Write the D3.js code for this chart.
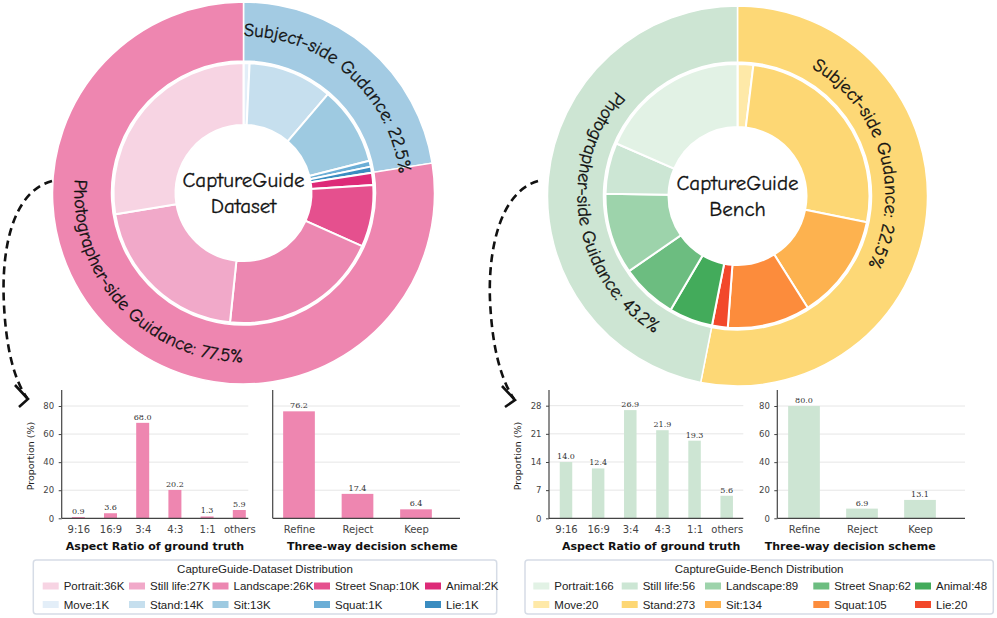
<!DOCTYPE html>
<html>
<head>
<meta charset="utf-8" />
<script src="https://cdn.jsdelivr.net/npm/d3@7"></script>
<style>
  body { margin: 0; background: #fff; }
  svg { display: block; }
  .comic { font-family: "Comic Sans MS", "Comic Neue", "Lato", sans-serif; fill: #111; stroke: #111; stroke-width: 0.3px; }
  .tick text { font-family: "DejaVu Sans", sans-serif; fill: #444; }
  .legend text { font-family: "Liberation Sans", Arial, sans-serif; font-size: 11.5px; fill: #222; }
</style>
</head>
<body>
<svg id="chart" width="997" height="618"></svg>
<script>
"use strict";

// ---- data ----
var photoCats = ["Portrait", "Still life", "Landscape", "Street Snap", "Animal"];
var subjCats = ["Move", "Stand", "Sit", "Squat", "Lie"];

// CaptureGuide-Dataset (counts in K)
var dsPhoto = [36, 27, 26, 10, 2];
var dsSubj = [1, 14, 13, 1, 1];
var dsShare = [22.5, 77.5]; // subject, photographer
var dsRingLabels = ["Subject-side Gudance: 22.5%", "Photographer-side Guidance: 77.5%"];

// CaptureGuide-Bench (counts)
var bnPhoto = [166, 56, 89, 62, 48];
var bnSubj = [20, 273, 134, 105, 20];
var bnShare = [53.1, 46.9]; // as drawn in the ring
var bnRingLabels = ["Subject-side Gudance: 22.5%", "Photographer-side Guidance: 43.2%"];

var ratioCats = ["9:16", "16:9", "3:4", "4:3", "1:1", "others"];
var dsRatio = [0.9, 3.6, 68.0, 20.2, 1.3, 5.9];
var bnRatio = [14.0, 12.4, 26.9, 21.9, 19.3, 5.6];

var decisionCats = ["Refine", "Reject", "Keep"];
var dsDecision = [76.2, 17.4, 6.4];
var bnDecision = [80.0, 6.9, 13.1];

// ---- colours ----
var dsPhotoColors = ["#f7d4e3", "#f1a9c9", "#ec87b1", "#e5508e", "#dd2a78"];
var dsSubjColors = ["#e3eef8", "#c6dfee", "#9ecae1", "#6baed6", "#3a8cc0"];
var dsOuterColors = ["#a3cbe3", "#ee86b0"];
var bnPhotoColors = ["#e2f2e5", "#cce6d4", "#9dd3ab", "#6cbd80", "#43ab5b"];
var bnSubjColors = ["#fee9a8", "#fdd774", "#fdb24f", "#fc8c3c", "#f2482b"];
var bnOuterColors = ["#fdd876", "#cde5d3"];

var svg = d3.select("#chart");
var rad = Math.PI / 180;

// curved label along the outer ring, one textPath per word
function ringLabel(g, id, text, centerDeg, r, clockwise, fs) {
  var span = 120 * rad, c = centerDeg * rad;
  var rb = clockwise ? r - fs * 0.33 : r + fs * 0.33;
  var p = d3.path();
  if (clockwise) {
    p.arc(0, 0, rb, c - span - Math.PI / 2, c + span - Math.PI / 2, false);
  } else {
    p.arc(0, 0, rb, c + span - Math.PI / 2, c - span - Math.PI / 2, true);
  }
  g.append("path").attr("id", id).attr("d", p.toString()).attr("fill", "none");

  // measure the whole string and each word's start
  var probe = g.append("text").attr("class", "comic").style("font-size", fs + "px").text(text);
  var node = probe.node();
  var total = node.getComputedTextLength();
  var start = span * rb - total / 2;
  var words = text.split(" ");
  var pos = 0;
  words.forEach(function(w, i) {
    var off = pos > 0 ? node.getSubStringLength(0, pos) : 0;
    g.append("text").attr("class", "comic").style("font-size", fs + "px")
      .append("textPath").attr("href", "#" + id)
      .attr("startOffset", start + off).text(w);
    pos += w.length + 1;
  });
  probe.remove();
}

function donut(cfg) {
  var g = svg.append("g").attr("transform", "translate(" + cfg.cx + "," + cfg.cy + ")");
  var subjTotal = d3.sum(cfg.subj), photoTotal = d3.sum(cfg.photo);

  // inner ring: subject slices clockwise from the top, then photographer slices reversed
  var inner = [];
  cfg.subj.forEach(function(v, i) {
    inner.push({ value: cfg.share[0] * v / subjTotal, color: cfg.subjColors[i] });
  });
  for (var i = cfg.photo.length - 1; i >= 0; i--) {
    inner.push({ value: cfg.share[1] * cfg.photo[i] / photoTotal, color: cfg.photoColors[i] });
  }
  var outer = [
    { value: cfg.share[0], color: cfg.outerColors[0] },
    { value: cfg.share[1], color: cfg.outerColors[1] }
  ];

  var pie = d3.pie().sort(null).value(function(d) { return d.value; });
  var arcIn = d3.arc().innerRadius(cfg.r0).outerRadius(cfg.r1);
  var arcOut = d3.arc().innerRadius(cfg.r2).outerRadius(cfg.r3);

  g.selectAll("path.outer").data(pie(outer)).enter().append("path")
    .attr("class", "outer").attr("d", arcOut)
    .attr("fill", function(d) { return d.data.color; })
    .attr("stroke", "#fff").attr("stroke-width", 1.5);

  g.selectAll("path.inner").data(pie(inner)).enter().append("path")
    .attr("class", "inner").attr("d", arcIn)
    .attr("fill", function(d) { return d.data.color; })
    .attr("stroke", "#fff").attr("stroke-width", 2);

  ringLabel(g, cfg.id + "s", cfg.labels[0], cfg.labelAt[0], cfg.labelR, true, 18.5);
  ringLabel(g, cfg.id + "p", cfg.labels[1], cfg.labelAt[1], cfg.labelR, false, 18.5);

  g.append("text").attr("class", "comic").attr("text-anchor", "middle").style("font-size", "21px")
    .attr("x", 0).attr("y", -6).text("CaptureGuide");
  g.append("text").attr("class", "comic").attr("text-anchor", "middle").style("font-size", "21px")
    .attr("x", 0).attr("y", 20).text(cfg.title);
}

donut({ id: "ds", cx: 243.5, cy: 193, r0: 68, r1: 130, r2: 132, r3: 191,
  photo: dsPhoto, subj: dsSubj, share: dsShare,
  photoColors: dsPhotoColors, subjColors: dsSubjColors, outerColors: dsOuterColors,
  labels: dsRingLabels, labelAt: [41.5, 227.5], labelR: 163, title: "Dataset" });

donut({ id: "bn", cx: 737.5, cy: 196, r0: 69, r1: 132, r2: 134, r3: 190,
  photo: bnPhoto, subj: bnSubj, share: bnShare,
  photoColors: bnPhotoColors, subjColors: bnSubjColors, outerColors: bnOuterColors,
  labels: bnRingLabels, labelAt: [74, 261], labelR: 154, title: "Bench" });

// ---- dashed arrows from the rings down to the bar charts ----
function arrow(pathD, head) {
  svg.append("path").attr("d", pathD).attr("fill", "none")
    .attr("stroke", "#111").attr("stroke-width", 2.6).attr("stroke-dasharray", "8,5");
  svg.append("path").attr("d", head).attr("fill", "none")
    .attr("stroke", "#111").attr("stroke-width", 2.6);
}
arrow("M52,181 C12,192 1,250 4,305 C6,345 13,378 27,398", "M15,385 L28,399 L19,407");
arrow("M538,181 C500,192 488,250 490,300 C492,345 500,378 514,399", "M502,386 L515,400 L505,407");

// ---- bar panels ----
var baseY = 518.3, topY = 390;

function barPanel(cfg) {
  var g = svg.append("g");
  var y = d3.scaleLinear().domain([0, cfg.yMax]).range([baseY, topY]);
  var x = d3.scalePoint().domain(cfg.cats).range([cfg.c0, cfg.c1]);

  g.selectAll("line.grid").data(cfg.ticks.slice(1)).enter().append("line")
    .attr("x1", cfg.x0).attr("x2", cfg.x1)
    .attr("y1", function(d) { return y(d); }).attr("y2", function(d) { return y(d); })
    .attr("stroke", "#e6e6e6").attr("stroke-width", 1);

  g.selectAll("rect").data(cfg.values).enter().append("rect")
    .attr("x", function(d, i) { return x(cfg.cats[i]) - cfg.bw / 2; })
    .attr("y", function(d) { return y(d); })
    .attr("width", cfg.bw)
    .attr("height", function(d) { return baseY - y(d); })
    .attr("fill", cfg.color);

  g.selectAll("text.val").data(cfg.values).enter().append("text")
    .attr("x", function(d, i) { return x(cfg.cats[i]); })
    .attr("y", function(d) { return y(d) - 3; })
    .attr("text-anchor", "middle")
    .style("font-family", "'DejaVu Serif', serif").style("font-size", "8px").style("fill", "#333")
    .text(function(d) { return d.toFixed(1); });

  var xa = g.append("g").attr("transform", "translate(0," + baseY + ")")
    .call(d3.axisBottom(x).tickSize(0).tickPadding(8));
  xa.select(".domain").remove();
  xa.selectAll("text").style("font-size", "10px");

  var ya = g.append("g").attr("transform", "translate(" + cfg.x0 + ",0)")
    .call(d3.axisLeft(y).tickValues(cfg.ticks)
      .tickSize(cfg.showY ? 3 : 0).tickPadding(4.5)
      .tickFormat(cfg.showY ? d3.format("d") : function() { return ""; }));
  ya.select(".domain").remove();
  ya.selectAll(".tick line").attr("stroke", "#444");
  ya.selectAll("text").style("font-size", "8.5px");

  // spines
  g.append("line").attr("x1", cfg.x0).attr("x2", cfg.x0).attr("y1", topY).attr("y2", baseY)
    .attr("stroke", "#444").attr("stroke-width", 1.2);
  g.append("line").attr("x1", cfg.x0).attr("x2", cfg.x1).attr("y1", baseY).attr("y2", baseY)
    .attr("stroke", "#444").attr("stroke-width", 1.2);

  g.append("text").attr("x", (cfg.x0 + cfg.x1) / 2 + cfg.titleDx).attr("y", 549.5)
    .attr("text-anchor", "middle")
    .style("font-family", "'DejaVu Sans', sans-serif").style("font-weight", "bold")
    .style("font-size", "11px").style("fill", "#111")
    .text(cfg.title);

  if (cfg.ylabelX) {
    g.append("text").attr("transform", "translate(" + cfg.ylabelX + ",456) rotate(-90)")
      .attr("text-anchor", "middle")
      .style("font-family", "'DejaVu Sans', sans-serif").style("font-size", "9.5px").style("fill", "#222")
      .text("Proportion (%)");
  }
}

barPanel({ cats: ratioCats, values: dsRatio, yMax: 91.4, ticks: [0, 20, 40, 60, 80], showY: true,
  x0: 61.7, x1: 248.3, c0: 78.3, c1: 239.3, bw: 13, color: "#ee86b0",
  title: "Aspect Ratio of ground truth", titleDx: 0, ylabelX: 34 });
barPanel({ cats: decisionCats, values: dsDecision, yMax: 91.4, ticks: [0, 20, 40, 60, 80], showY: false,
  x0: 272.7, x1: 460, c0: 299, c1: 416, bw: 31.7, color: "#ee86b0",
  title: "Three-way decision scheme", titleDx: 6 });
barPanel({ cats: ratioCats, values: bnRatio, yMax: 31.9, ticks: [0, 7, 14, 21, 28], showY: true,
  x0: 549, x1: 743.3, c0: 566, c1: 726.7, bw: 12.5, color: "#cde5d3",
  title: "Aspect Ratio of ground truth", titleDx: 5, ylabelX: 521 });
barPanel({ cats: decisionCats, values: bnDecision, yMax: 91.4, ticks: [0, 20, 40, 60, 80], showY: true,
  x0: 777.3, x1: 965, c0: 804, c1: 920, bw: 31.7, color: "#cde5d3",
  title: "Three-way decision scheme", titleDx: -21 });

// ---- legends ----
function legend(cfg) {
  var g = svg.append("g").attr("class", "legend");
  g.append("rect").attr("x", cfg.x0).attr("y", 560).attr("width", cfg.x1 - cfg.x0).attr("height", 54)
    .attr("rx", 3).attr("fill", "#fff").attr("stroke", "#d6dce6").attr("stroke-width", 1.5);
  g.append("text").attr("x", (cfg.x0 + cfg.x1) / 2).attr("y", 573).attr("text-anchor", "middle").text(cfg.title);
  var rows = [
    { names: photoCats, counts: cfg.photo, colors: cfg.photoColors, cy: 586 },
    { names: subjCats, counts: cfg.subj, colors: cfg.subjColors, cy: 604.5 }
  ];
  rows.forEach(function(row) {
    row.names.forEach(function(n, i) {
      var sx = cfg.cols[i];
      g.append("rect").attr("x", sx).attr("y", row.cy - 3.5).attr("width", 16).attr("height", 7)
        .attr("fill", row.colors[i]);
      g.append("text").attr("x", sx + 21).attr("y", row.cy + 4).text(n + ":" + row.counts[i] + cfg.suffix);
    });
  });
}

legend({ x0: 33.3, x1: 496.7, title: "CaptureGuide-Dataset Distribution", suffix: "K",
  photo: dsPhoto, subj: dsSubj, photoColors: dsPhotoColors, subjColors: dsSubjColors,
  cols: [42.7, 129, 212.5, 314, 425] });
legend({ x0: 525, x1: 993.3, title: "CaptureGuide-Bench Distribution", suffix: "",
  photo: bnPhoto, subj: bnSubj, photoColors: bnPhotoColors, subjColors: bnSubjColors,
  cols: [533.3, 621.7, 705, 813.3, 915] });
</script>
</body>
</html>
